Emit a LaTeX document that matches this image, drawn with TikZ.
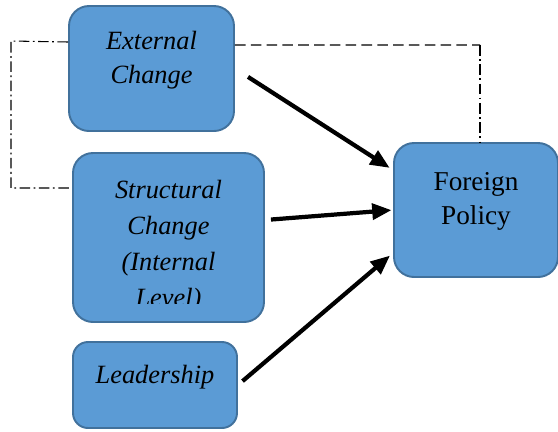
\documentclass[tikz,border=0pt]{standalone}
\usepackage{fontspec}
\setmainfont{Liberation Serif}
\usetikzlibrary{arrows.meta}
\definecolor{boxfill}{HTML}{5B9BD5}
\definecolor{boxline}{HTML}{41719C}
\tikzset{
  block/.style={draw=boxline, fill=boxfill, line width=1.1pt, rounded corners=0.4cm},
  lbl/.style={align=center, font=\fontsize{15}{19}\selectfont\itshape},
  link/.style={line width=2.4pt, -{Triangle[length=11pt,width=9pt]}},
  dashdot/.style={line width=0.6pt, dash pattern=on 6pt off 2pt on 1pt off 2pt}
}
\begin{document}
\begin{tikzpicture}
  \useasboundingbox (0,0) rectangle (11.16,-8.62);
  % the four boxes
  \node[block, minimum width=3.3cm, minimum height=2.5cm] (ext) at (3.03,-1.37) {};
  \node[block, minimum width=3.82cm, minimum height=3.38cm] (struct) at (3.37,-4.75) {};
  \node[block, rounded corners=0.3cm, minimum width=3.28cm, minimum height=1.72cm] (lead) at (3.10,-7.70) {};
  \node[block, minimum width=3.28cm, minimum height=2.68cm] (fp) at (9.52,-4.20) {};
  % texts
  \node[lbl] (extT) at ([yshift=0.17cm]ext.center) {External\\Change};
  \node[lbl] (leadT) at ([yshift=0.16cm]lead.center) {Leadership};
  \node[lbl, font=\fontsize{15.5}{19}\selectfont] (fpT) at ([yshift=0.17cm]fp.center) {Foreign\\Policy};
  \begin{scope}
    % last line runs past the box
    \clip (struct.north west) rectangle ([yshift=0.38cm]struct.south east);
    \node[lbl, font=\fontsize{15}{20.5}\selectfont\itshape] (structT) at ([yshift=-0.17cm]struct.center)
      {Structural\\Change\\(Internal\\Level)};
  \end{scope}
  % arrows into foreign policy
  \draw[link, shorten <=0.31cm, shorten >=0.08cm] (ext.east) -- ([yshift=0.8cm]fp.west);
  \draw[link, shorten <=0.12cm, shorten >=0.03cm] ([yshift=0.35cm]struct.east) -- (fp.west);
  \draw[link, shorten <=0.12cm, shorten >=0.08cm] (lead.east) -- ([yshift=-0.86cm]fp.west);
  % feedback lines
  \coordinate (tr) at (9.6,-0.90);
  \coordinate (tl) at (0.22,-0.82);
  \coordinate (bl) at (0.22,-3.76);
  \draw[line width=0.6pt, dash pattern=on 6pt off 3pt] ([yshift=0.47cm]ext.east) -- (tr);
  \draw[dashdot] (tr) -- (tr |- fp.north);
  \draw[dashdot] ([yshift=0.53cm]ext.west) -- (tl) -- (bl) -- ([yshift=0.99cm]struct.west);
\end{tikzpicture}
\end{document}
